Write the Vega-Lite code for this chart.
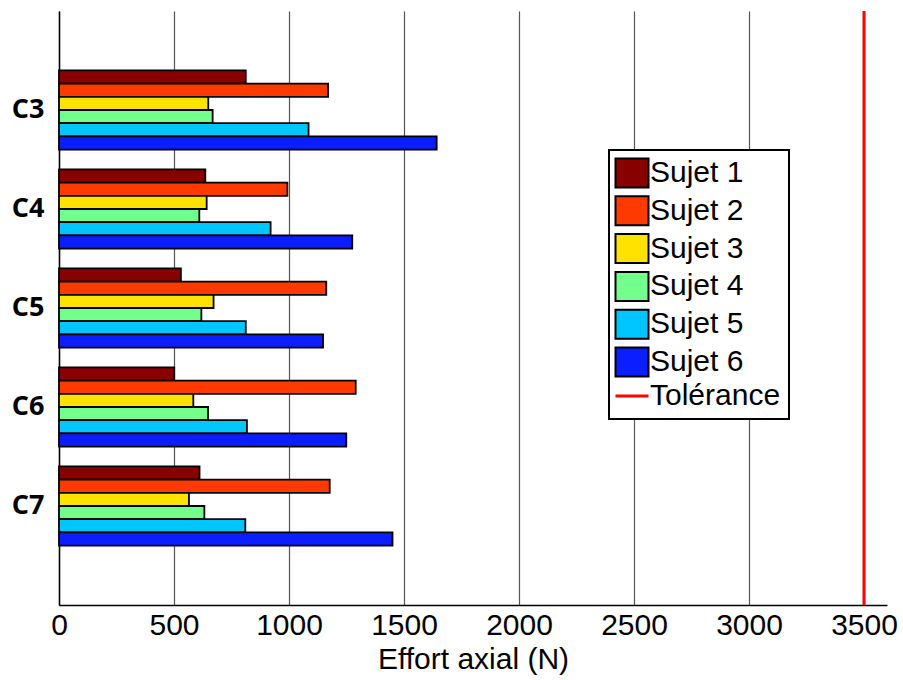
{
  "$schema": "https://vega.github.io/schema/vega-lite/v6.json",
  "autosize": "none",
  "width": 828,
  "height": 594,
  "padding": {"left": 59, "top": 11, "right": 16, "bottom": 75},
  "background": "white",
  "config": {
    "view": {"stroke": null},
    "font": "Liberation Sans",
    "legend": {"strokeWidth": 2}
  },
  "layer": [
    {
      "data": {
        "values": [
          {"vertebre": "C3", "sujet": "Sujet 1", "effort": 812},
          {"vertebre": "C3", "sujet": "Sujet 2", "effort": 1170},
          {"vertebre": "C3", "sujet": "Sujet 3", "effort": 649},
          {"vertebre": "C3", "sujet": "Sujet 4", "effort": 668},
          {"vertebre": "C3", "sujet": "Sujet 5", "effort": 1085},
          {"vertebre": "C3", "sujet": "Sujet 6", "effort": 1642},
          {"vertebre": "C4", "sujet": "Sujet 1", "effort": 636},
          {"vertebre": "C4", "sujet": "Sujet 2", "effort": 993},
          {"vertebre": "C4", "sujet": "Sujet 3", "effort": 642},
          {"vertebre": "C4", "sujet": "Sujet 4", "effort": 610},
          {"vertebre": "C4", "sujet": "Sujet 5", "effort": 920},
          {"vertebre": "C4", "sujet": "Sujet 6", "effort": 1275},
          {"vertebre": "C5", "sujet": "Sujet 1", "effort": 530},
          {"vertebre": "C5", "sujet": "Sujet 2", "effort": 1162},
          {"vertebre": "C5", "sujet": "Sujet 3", "effort": 672},
          {"vertebre": "C5", "sujet": "Sujet 4", "effort": 619},
          {"vertebre": "C5", "sujet": "Sujet 5", "effort": 812},
          {"vertebre": "C5", "sujet": "Sujet 6", "effort": 1148},
          {"vertebre": "C6", "sujet": "Sujet 1", "effort": 501},
          {"vertebre": "C6", "sujet": "Sujet 2", "effort": 1290},
          {"vertebre": "C6", "sujet": "Sujet 3", "effort": 584},
          {"vertebre": "C6", "sujet": "Sujet 4", "effort": 648},
          {"vertebre": "C6", "sujet": "Sujet 5", "effort": 817},
          {"vertebre": "C6", "sujet": "Sujet 6", "effort": 1249},
          {"vertebre": "C7", "sujet": "Sujet 1", "effort": 611},
          {"vertebre": "C7", "sujet": "Sujet 2", "effort": 1177},
          {"vertebre": "C7", "sujet": "Sujet 3", "effort": 565},
          {"vertebre": "C7", "sujet": "Sujet 4", "effort": 632},
          {"vertebre": "C7", "sujet": "Sujet 5", "effort": 810},
          {"vertebre": "C7", "sujet": "Sujet 6", "effort": 1450}
        ]
      },
      "mark": {"type": "bar", "stroke": "black", "strokeWidth": 1.8, "opacity": 1},
      "encoding": {
        "x": {
          "field": "effort",
          "type": "quantitative",
          "stack": null,
          "scale": {"domain": [0, 3600], "nice": false},
          "axis": {
            "values": [0, 500, 1000, 1500, 2000, 2500, 3000, 3500],
            "format": "d",
            "title": "Effort axial (N)",
            "titleFont": "Liberation Sans",
            "titleFontSize": 30,
            "titleFontWeight": "normal",
            "titleColor": "black",
            "titlePadding": 4,
            "labelFont": "Liberation Sans",
            "labelFontSize": 30,
            "labelColor": "black",
            "labelPadding": 5,
            "labelOverlap": false,
            "labelFlush": false,
            "domainColor": "black",
            "domainWidth": 1.5,
            "ticks": false,
            "grid": true,
            "gridColor": "#555555",
            "gridWidth": 1.2
          }
        },
        "y": {
          "field": "vertebre",
          "type": "nominal",
          "sort": ["C3", "C4", "C5", "C6", "C7"],
          "scale": {"paddingInner": 0.2, "paddingOuter": 0.6},
          "axis": {
            "title": null,
            "labelFont": "Open Sans",
            "labelFontWeight": "bold",
            "labelFontSize": 27,
            "labelColor": "black",
            "labelPadding": 15,
            "ticks": false,
            "domainColor": "black",
            "domainWidth": 1.5,
            "grid": false
          }
        },
        "yOffset": {
          "field": "sujet",
          "type": "nominal",
          "sort": ["Sujet 1", "Sujet 2", "Sujet 3", "Sujet 4", "Sujet 5", "Sujet 6"],
          "scale": {"paddingInner": 0, "paddingOuter": 0}
        },
        "color": {
          "field": "sujet",
          "type": "nominal",
          "scale": {
            "domain": ["Sujet 1", "Sujet 2", "Sujet 3", "Sujet 4", "Sujet 5", "Sujet 6", "Tolérance"],
            "range": ["#880000", "#FF3A00", "#FFE200", "#73FF8B", "#00C6FF", "#0A1EFF", "#FF0000"]
          },
          "legend": {
            "title": null,
            "orient": "none",
            "legendX": 550,
            "legendY": 139,
            "strokeColor": "black",
            "fillColor": "white",
            "padding": 8,
            "rowPadding": -0.2,
            "labelFont": "Liberation Sans",
            "labelFontSize": 30,
            "labelColor": "black",
            "labelOffset": 3,
            "labelLimit": 300,
            "symbolSize": 1089,
            "symbolType": "M-1,-0.88L1,-0.88L1,0.88L-1,0.88Z",
            "symbolStrokeColor": "black",
            "symbolStrokeWidth": 2,
            "symbolOpacity": 1,
            "encode": {
              "symbols": {
                "update": {
                  "shape": {"signal": "datum.value === 'Tolérance' ? 'stroke' : 'M-1,-0.88L1,-0.88L1,0.88L-1,0.88Z'"},
                  "stroke": {"signal": "datum.value === 'Tolérance' ? '#FF0000' : 'black'"},
                  "strokeWidth": {"signal": "datum.value === 'Tolérance' ? 3 : 2"}
                }
              }
            }
          }
        }
      }
    },
    {
      "data": {"values": [{"tolerance": 3500}]},
      "mark": {"type": "rule", "color": "#FF0000", "strokeWidth": 3},
      "encoding": {
        "x": {"field": "tolerance", "type": "quantitative"}
      }
    }
  ]
}
